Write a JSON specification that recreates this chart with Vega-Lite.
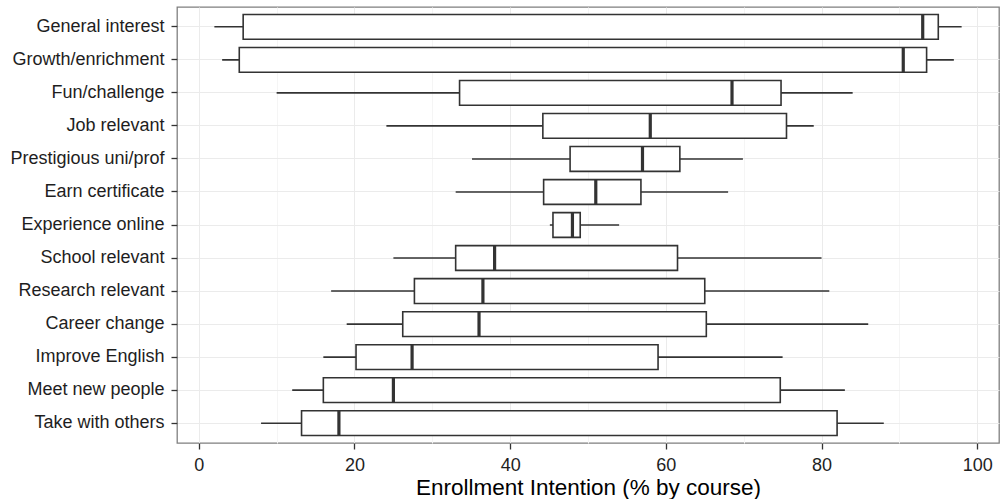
{
  "$schema": "https://vega.github.io/schema/vega-lite/v6.json",
  "width": 822,
  "height": 436,
  "autosize": {"type": "none"},
  "padding": {"left": 177, "top": 7, "right": 2, "bottom": 56},
  "config": {
    "font": "Liberation Sans",
    "view": {"stroke": "#7F7F7F", "strokeWidth": 1.3},
    "axis": {
      "domain": false,
      "labelFont": "Liberation Sans",
      "labelFontSize": 18,
      "labelColor": "#1E1E1E",
      "tickColor": "#333333",
      "tickWidth": 1.3,
      "tickSize": 6,
      "labelPadding": 7,
      "gridColor": "#EBEBEB",
      "gridWidth": 1,
      "titleFont": "Liberation Sans",
      "titleFontSize": 22.5,
      "titleFontWeight": "normal",
      "titleColor": "#000000"
    }
  },
  "data": {
    "values": [
      {"reason": "General interest", "lo": 2, "q1": 5.7, "median": 93.0, "q3": 95.0, "hi": 98.0},
      {"reason": "Growth/enrichment", "lo": 3, "q1": 5.2, "median": 90.5, "q3": 93.5, "hi": 97.0},
      {"reason": "Fun/challenge", "lo": 10, "q1": 33.5, "median": 68.5, "q3": 74.8, "hi": 84.0},
      {"reason": "Job relevant", "lo": 24.1, "q1": 44.2, "median": 58.0, "q3": 75.5, "hi": 79.0},
      {"reason": "Prestigious uni/prof", "lo": 35.1, "q1": 47.7, "median": 57.0, "q3": 61.8, "hi": 69.9},
      {"reason": "Earn certificate", "lo": 33.0, "q1": 44.3, "median": 51.0, "q3": 56.8, "hi": 68.0},
      {"reason": "Experience online", "lo": 45.1, "q1": 45.5, "median": 48.0, "q3": 49.0, "hi": 54.0},
      {"reason": "School relevant", "lo": 25.0, "q1": 33.0, "median": 38.0, "q3": 61.5, "hi": 80.0},
      {"reason": "Research relevant", "lo": 17.0, "q1": 27.7, "median": 36.5, "q3": 65.0, "hi": 81.0},
      {"reason": "Career change", "lo": 19.0, "q1": 26.2, "median": 36.0, "q3": 65.2, "hi": 86.0},
      {"reason": "Improve English", "lo": 16.0, "q1": 20.2, "median": 27.4, "q3": 59.0, "hi": 75.0},
      {"reason": "Meet new people", "lo": 12.0, "q1": 16.0, "median": 25.0, "q3": 74.7, "hi": 83.0},
      {"reason": "Take with others", "lo": 8.0, "q1": 13.2, "median": 18.0, "q3": 82.0, "hi": 88.0}
    ]
  },
  "encoding": {
    "y": {
      "field": "reason",
      "type": "nominal",
      "sort": null,
      "title": null,
      "scale": {"paddingInner": 0.25, "paddingOuter": 0.225},
      "axis": {"grid": true, "labelPadding": 7}
    }
  },
  "resolve": {"axis": {"x": "independent"}},
  "layer": [
    {
      "mark": {"type": "rule", "color": "#333333", "strokeWidth": 1.6},
      "encoding": {
        "x": {
          "field": "lo",
          "type": "quantitative",
          "scale": {"domain": [-2.8, 102.8], "nice": false, "zero": false},
          "axis": {
            "orient": "bottom",
            "values": [0, 20, 40, 60, 80, 100],
            "grid": true,
            "title": "Enrollment Intention (% by course)",
            "titlePadding": 2
          }
        },
        "x2": {"field": "hi"}
      }
    },
    {
      "mark": {"type": "bar", "fill": "white", "opacity": 1, "stroke": "#333333", "strokeWidth": 1.6},
      "encoding": {
        "x": {
          "field": "q1",
          "type": "quantitative",
          "axis": {
            "orient": "bottom",
            "values": [10, 30, 50, 70, 90],
            "grid": true,
            "gridColor": "#F5F5F5",
            "labels": false,
            "ticks": false,
            "title": null
          }
        },
        "x2": {"field": "q3"}
      }
    },
    {
      "mark": {"type": "tick", "color": "#333333", "opacity": 1, "thickness": 3.2, "size": 24.75},
      "encoding": {
        "x": {"field": "median", "type": "quantitative", "axis": null}
      }
    }
  ]
}
